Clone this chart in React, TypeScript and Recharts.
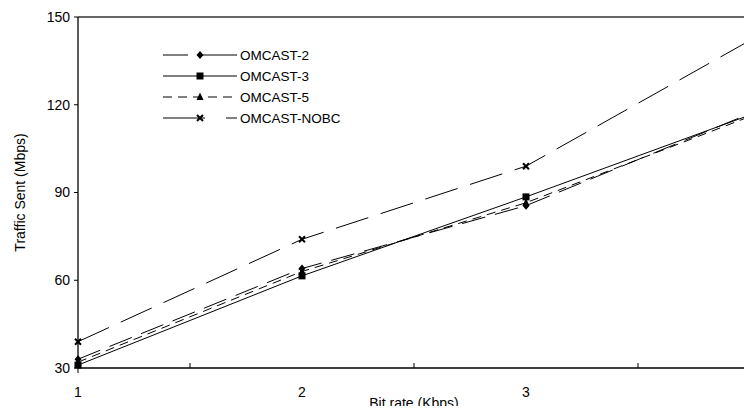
import React from 'react';
import { LineChart, Line, XAxis, YAxis, ReferenceLine, Label } from 'recharts';

const bitRates = [1, 2, 3, 4];
const omcast2 = [33, 64, 85.5, 117];
const omcast3 = [31, 61.5, 88.5, 116.5];
const omcast5 = [32, 63, 86.5, 116];
const omcastNobc = [39, 74, 99, 142];
const yTicks = [30, 60, 90, 120, 150];
const xTicks = [1, 1.5, 2, 2.5, 3, 3.5, 4];

const data = bitRates.map((b, i) => ({
  x: b,
  o2: omcast2[i],
  o3: omcast3[i],
  o5: omcast5[i],
  nobc: omcastNobc[i],
}));

const FONT = '"Liberation Sans", Arial, sans-serif';

type Shape = 'diamond' | 'square' | 'triangle' | 'cross';

const Marker = ({ cx, cy, shape }: { cx: number; cy: number; shape: Shape }) => {
  if (cx == null || cy == null) return null;
  if (shape === 'diamond')
    return <polygon points={`${cx},${cy - 4} ${cx + 3.5},${cy} ${cx},${cy + 4} ${cx - 3.5},${cy}`} fill="#000" />;
  if (shape === 'square') return <rect x={cx - 3.5} y={cy - 3.5} width={7} height={7} fill="#000" />;
  if (shape === 'triangle')
    return <polygon points={`${cx},${cy - 4.5} ${cx + 3.5},${cy + 3} ${cx - 3.5},${cy + 3}`} fill="#000" />;
  return (
    <g stroke="#000" strokeWidth={2}>
      <line x1={cx - 3} y1={cy - 3} x2={cx + 3} y2={cy + 3} />
      <line x1={cx - 3} y1={cy + 3} x2={cx + 3} y2={cy - 3} />
    </g>
  );
};

const series: { key: string; name: string; dash?: string; shape: Shape }[] = [
  { key: 'o2', name: 'OMCAST-2', dash: '24 10', shape: 'diamond' },
  { key: 'o3', name: 'OMCAST-3', shape: 'square' },
  { key: 'o5', name: 'OMCAST-5', dash: '9 6', shape: 'triangle' },
  { key: 'nobc', name: 'OMCAST-NOBC', dash: '34 13', shape: 'cross' },
];

const legendDash: Record<string, string | undefined> = {
  o2: '25 12 45 20',
  o3: undefined,
  o5: '9 6',
  nobc: '42 21 12 0',
};

const LegendBox = () => (
  <svg width={200} height={90} style={{ position: 'absolute', left: 160, top: 45, overflow: 'visible' }}>
    {series.map((s, i) => {
      const y = 10 + i * 21;
      return (
        <g key={s.key}>
          <line x1={3} y1={y} x2={77} y2={y} stroke="#000" strokeWidth={1} strokeDasharray={legendDash[s.key]} />
          <Marker cx={40} cy={y} shape={s.shape} />
          <text x={80} y={y + 5} fontSize={13.5} fontFamily={FONT} fill="#000">
            {s.name}
          </text>
        </g>
      );
    })}
  </svg>
);

const XTick = (props: any) => {
  const { x, y, payload } = props;
  const v = payload.value;
  const axisY = y - 8;
  if (Number.isInteger(v)) {
    return (
      <g>
        {(v === 1 || v === 4) && <line x1={x} y1={axisY} x2={x} y2={axisY + 5} stroke="#000" strokeWidth={1} />}
        <text x={x} y={axisY + 29} textAnchor="middle" fontSize={14} fontFamily={FONT} fill="#000">
          {v}
        </text>
      </g>
    );
  }
  return <line x1={x} y1={axisY} x2={x} y2={axisY - 5} stroke="#000" strokeWidth={1} />;
};

export default function App() {
  return (
    <div style={{ margin: -8, width: 752, height: 414, background: '#fff', position: 'relative' }}>
      <LineChart width={752} height={414} data={data} margin={{ top: 17, right: 2, left: 0, bottom: 0 }}>
        <XAxis
          dataKey="x"
          type="number"
          domain={[1, 4]}
          ticks={xTicks}
          interval={0}
          tick={<XTick />}
          tickLine={false}
          axisLine={{ stroke: '#000', strokeWidth: 1.3 }}
          height={46}
        >
          <Label value="Bit rate (Kbps)" position="insideBottom" offset={6} fontSize={14} fontFamily={FONT} fill="#000" />
        </XAxis>
        <YAxis
          type="number"
          domain={[30, 150]}
          ticks={yTicks}
          interval={0}
          width={78}
          tickSize={4}
          tickMargin={4}
          tick={{ fontSize: 14, fontFamily: FONT, fill: '#000' }}
          tickLine={{ stroke: '#000' }}
          axisLine={{ stroke: '#000', strokeWidth: 1.3 }}
        >
          <Label
            value="Traffic Sent (Mbps)"
            angle={-90}
            position="insideLeft"
            offset={20}
            style={{ textAnchor: 'middle' }}
            fontSize={14}
            fontFamily={FONT}
            fill="#000"
          />
        </YAxis>
        <ReferenceLine y={150} stroke="#333" strokeWidth={1.3} />
        <ReferenceLine x={4} stroke="#888" strokeWidth={1.5} />
        {series.map((s) => (
          <Line
            key={s.key}
            dataKey={s.key}
            name={s.name}
            type="linear"
            stroke="#000"
            strokeWidth={1}
            strokeDasharray={s.dash}
            isAnimationActive={false}
            dot={(p: any) => <Marker key={`${s.key}-${p.index}`} cx={p.cx} cy={p.cy} shape={s.shape} />}
            activeDot={false}
          />
        ))}
      </LineChart>
      <LegendBox />
    </div>
  );
}
